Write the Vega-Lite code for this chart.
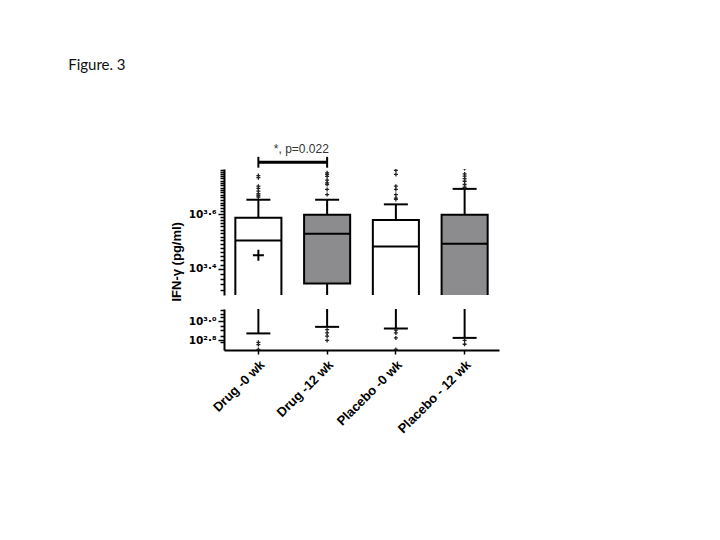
{
  "$schema": "https://vega.github.io/schema/vega-lite/v6.json",
  "background": "white",
  "padding": {"left": 68, "top": 58, "right": 5, "bottom": 5},
  "title": {"text": "Figure. 3", "anchor": "start", "frame": "bounds", "font": "Lato", "fontSize": 15, "fontWeight": "normal", "color": "#111111", "dx": -102, "offset": 70},
  "spacing": 4,
  "datasets": {
    "boxes": [
      {"group": "Drug -0 wk", "week": "0 wk", "lo": 746, "q1": 1585, "median": 3192, "q3": 3869, "hi": 4508, "mean": 2818},
      {"group": "Drug -12 wk", "week": "12 wk", "lo": 873, "q1": 2218, "median": 3381, "q3": 3972, "hi": 4508, "mean": null},
      {"group": "Placebo -0 wk", "week": "0 wk", "lo": 839, "q1": 1778, "median": 3034, "q3": 3793, "hi": 4335, "mean": null},
      {"group": "Placebo - 12 wk", "week": "12 wk", "lo": 670, "q1": 1660, "median": 3105, "q3": 3972, "hi": 4943, "mean": null}
    ],
    "outliers": [
      {"group": "Drug -0 wk", "value": 5534}, {"group": "Drug -0 wk", "value": 5433}, {"group": "Drug -0 wk", "value": 5058},
      {"group": "Drug -0 wk", "value": 4966}, {"group": "Drug -0 wk", "value": 4853}, {"group": "Drug -0 wk", "value": 4742},
      {"group": "Drug -0 wk", "value": 4677}, {"group": "Drug -0 wk", "value": 4613},
      {"group": "Drug -0 wk", "value": 603}, {"group": "Drug -0 wk", "value": 571}, {"group": "Drug -0 wk", "value": 507},
      {"group": "Drug -12 wk", "value": 5662}, {"group": "Drug -12 wk", "value": 5585}, {"group": "Drug -12 wk", "value": 5495},
      {"group": "Drug -12 wk", "value": 5321}, {"group": "Drug -12 wk", "value": 5200}, {"group": "Drug -12 wk", "value": 5129},
      {"group": "Drug -12 wk", "value": 4920}, {"group": "Drug -12 wk", "value": 4710},
      {"group": "Drug -12 wk", "value": 818}, {"group": "Drug -12 wk", "value": 755}, {"group": "Drug -12 wk", "value": 700}, {"group": "Drug -12 wk", "value": 631},
      {"group": "Placebo -0 wk", "value": 5781}, {"group": "Placebo -0 wk", "value": 5585}, {"group": "Placebo -0 wk", "value": 5058},
      {"group": "Placebo -0 wk", "value": 4920}, {"group": "Placebo -0 wk", "value": 4710}, {"group": "Placebo -0 wk", "value": 4571},
      {"group": "Placebo -0 wk", "value": 4519},
      {"group": "Placebo -0 wk", "value": 807}, {"group": "Placebo -0 wk", "value": 755}, {"group": "Placebo -0 wk", "value": 670}, {"group": "Placebo -0 wk", "value": 507},
      {"group": "Placebo - 12 wk", "value": 5875}, {"group": "Placebo - 12 wk", "value": 5610}, {"group": "Placebo - 12 wk", "value": 5508},
      {"group": "Placebo - 12 wk", "value": 5395}, {"group": "Placebo - 12 wk", "value": 5272}, {"group": "Placebo - 12 wk", "value": 5129},
      {"group": "Placebo - 12 wk", "value": 5012},
      {"group": "Placebo - 12 wk", "value": 631}, {"group": "Placebo - 12 wk", "value": 575}
    ],
    "bracket": [{"group": "Drug -0 wk", "y": 6200}, {"group": "Drug -12 wk", "y": 6200}],
    "bracketEnds": [{"group": "Drug -0 wk", "ylo": 5916, "yhi": 6486}, {"group": "Drug -12 wk", "ylo": 5916, "yhi": 6486}],
    "annot": [{"group": "Drug -0 wk", "y": 6902, "label": "*, p=0.022"}]
  },
  "config": {
    "view": {"stroke": null},
    "axis": {"grid": false, "domainColor": "black", "domainWidth": 2, "tickColor": "black", "tickWidth": 1.5, "labelColor": "black", "labelFont": "Liberation Sans", "labelFontWeight": "bold", "titleFont": "Liberation Sans", "titleFontWeight": "bold", "titleColor": "black"}
  },
  "vconcat": [
    {
      "width": 275,
      "height": 126,
      "layer": [
        {
          "data": {"name": "boxes"},
          "mark": {"type": "rule", "clip": true, "strokeWidth": 2, "color": "black"},
          "encoding": {
            "x": {"field": "group", "type": "nominal", "sort": null, "scale": {"domain": ["Drug -0 wk", "Drug -12 wk", "Placebo -0 wk", "Placebo - 12 wk"], "paddingInner": 0.33, "paddingOuter": 0.165}, "axis": null},
            "y": {"field": "lo", "type": "quantitative", "scale": {"type": "log", "domain": [2010, 5850], "nice": false},
              "axis": {"title": "IFN-γ (pg/ml)", "titleFontSize": 13, "titleAnchor": "start", "titleY": 132, "titlePadding": 5, "labelFont": "DejaVu Sans", "labelFontSize": 10.5, "labelOverlap": false, "labelFlush": false,
                "values": [2100, 2200, 2300, 2400, 2511.886, 2600, 2700, 2800, 2900, 3000, 3100, 3200, 3300, 3400, 3500, 3600, 3700, 3800, 3900, 3981.072, 4100, 4200, 4300, 4400, 4500, 4600, 4700, 4800, 4900, 5000, 5100, 5200, 5300, 5400, 5500, 5600, 5700, 5800],
                "labelExpr": "datum.value > 3980 && datum.value < 3982 ? '10³·⁶' : (datum.value > 2511 && datum.value < 2513 ? '10³·⁴' : '')",
                "tickSize": {"condition": {"test": "(datum.value > 3980 && datum.value < 3982) || (datum.value > 2511 && datum.value < 2513)", "value": 6}, "value": 4}}},
            "y2": {"field": "hi"}
          }
        },
        {
          "data": {"name": "boxes"},
          "mark": {"type": "bar", "clip": true, "stroke": "black", "strokeWidth": 2, "opacity": 1},
          "encoding": {
            "x": {"field": "group", "type": "nominal", "sort": null},
            "y": {"field": "q1", "type": "quantitative"},
            "y2": {"field": "q3"},
            "fill": {"field": "week", "type": "nominal", "scale": {"domain": ["0 wk", "12 wk"], "range": ["white", "#8c8c8e"]}, "legend": null}
          }
        },
        {
          "data": {"name": "boxes"},
          "mark": {"type": "tick", "clip": true, "size": 46, "thickness": 2, "color": "black", "opacity": 1},
          "encoding": {
            "x": {"field": "group", "type": "nominal", "sort": null},
            "y": {"field": "median", "type": "quantitative"}
          }
        },
        {
          "data": {"name": "boxes"},
          "mark": {"type": "tick", "clip": true, "size": 24, "thickness": 2, "color": "black", "opacity": 1},
          "encoding": {
            "x": {"field": "group", "type": "nominal", "sort": null},
            "y": {"field": "hi", "type": "quantitative"}
          }
        },
        {
          "data": {"name": "outliers"},
          "mark": {"type": "point", "clip": true, "shape": "M-1,0L1,0M0,-1L0,1", "size": 16, "filled": false, "stroke": "#222222", "strokeWidth": 1.3, "opacity": 1},
          "encoding": {
            "x": {"field": "group", "type": "nominal", "sort": null},
            "y": {"field": "value", "type": "quantitative"}
          }
        },
        {
          "data": {"name": "boxes"},
          "transform": [{"filter": "datum.mean != null"}],
          "mark": {"type": "point", "clip": true, "shape": "M-1,0L1,0M0,-1L0,1", "size": 121, "filled": false, "stroke": "black", "strokeWidth": 2, "opacity": 1},
          "encoding": {
            "x": {"field": "group", "type": "nominal", "sort": null},
            "y": {"field": "mean", "type": "quantitative"}
          }
        },
        {
          "data": {"name": "bracket"},
          "mark": {"type": "line", "clip": false, "strokeWidth": 3, "color": "black"},
          "encoding": {
            "x": {"field": "group", "type": "nominal", "sort": null},
            "y": {"field": "y", "type": "quantitative"}
          }
        },
        {
          "data": {"name": "bracketEnds"},
          "mark": {"type": "rule", "clip": false, "strokeWidth": 2, "color": "black"},
          "encoding": {
            "x": {"field": "group", "type": "nominal", "sort": null},
            "y": {"field": "ylo", "type": "quantitative"},
            "y2": {"field": "yhi"}
          }
        },
        {
          "data": {"name": "annot"},
          "mark": {"type": "text", "clip": false, "dx": 43, "align": "center", "baseline": "middle", "font": "Liberation Sans", "fontSize": 12, "color": "#333333"},
          "encoding": {
            "x": {"field": "group", "type": "nominal", "sort": null},
            "y": {"field": "y", "type": "quantitative"},
            "text": {"field": "label"}
          }
        }
      ]
    },
    {
      "width": 275,
      "height": 41,
      "layer": [
        {
          "data": {"name": "boxes"},
          "mark": {"type": "rule", "clip": true, "strokeWidth": 2, "color": "black"},
          "encoding": {
            "x": {"field": "group", "type": "nominal", "sort": null, "scale": {"domain": ["Drug -0 wk", "Drug -12 wk", "Placebo -0 wk", "Placebo - 12 wk"], "paddingInner": 0.33, "paddingOuter": 0.165},
              "axis": {"title": null, "labelAngle": -45, "labelFontSize": 13, "tickSize": 4, "labelPadding": 4}},
            "y": {"field": "lo", "type": "quantitative", "scale": {"type": "log", "domain": [501, 1340], "nice": false},
              "axis": {"title": null, "labelFont": "DejaVu Sans", "labelFontSize": 10.5, "labelOverlap": false, "labelFlush": false,
                "values": [600, 630.957, 700, 800, 900, 1000, 1100, 1200, 1300],
                "labelExpr": "datum.value == 1000 ? '10³·⁰' : (datum.value > 630 && datum.value < 632 ? '10²·⁸' : '')",
                "tickSize": {"condition": {"test": "datum.value == 1000 || (datum.value > 630 && datum.value < 632)", "value": 6}, "value": 4}}},
            "y2": {"field": "hi"}
          }
        },
        {
          "data": {"name": "boxes"},
          "mark": {"type": "tick", "clip": true, "size": 24, "thickness": 2, "color": "black", "opacity": 1},
          "encoding": {
            "x": {"field": "group", "type": "nominal", "sort": null},
            "y": {"field": "lo", "type": "quantitative"}
          }
        },
        {
          "data": {"name": "outliers"},
          "mark": {"type": "point", "clip": true, "shape": "M-1,0L1,0M0,-1L0,1", "size": 16, "filled": false, "stroke": "#222222", "strokeWidth": 1.3, "opacity": 1},
          "encoding": {
            "x": {"field": "group", "type": "nominal", "sort": null},
            "y": {"field": "value", "type": "quantitative"}
          }
        }
      ]
    }
  ]
}
